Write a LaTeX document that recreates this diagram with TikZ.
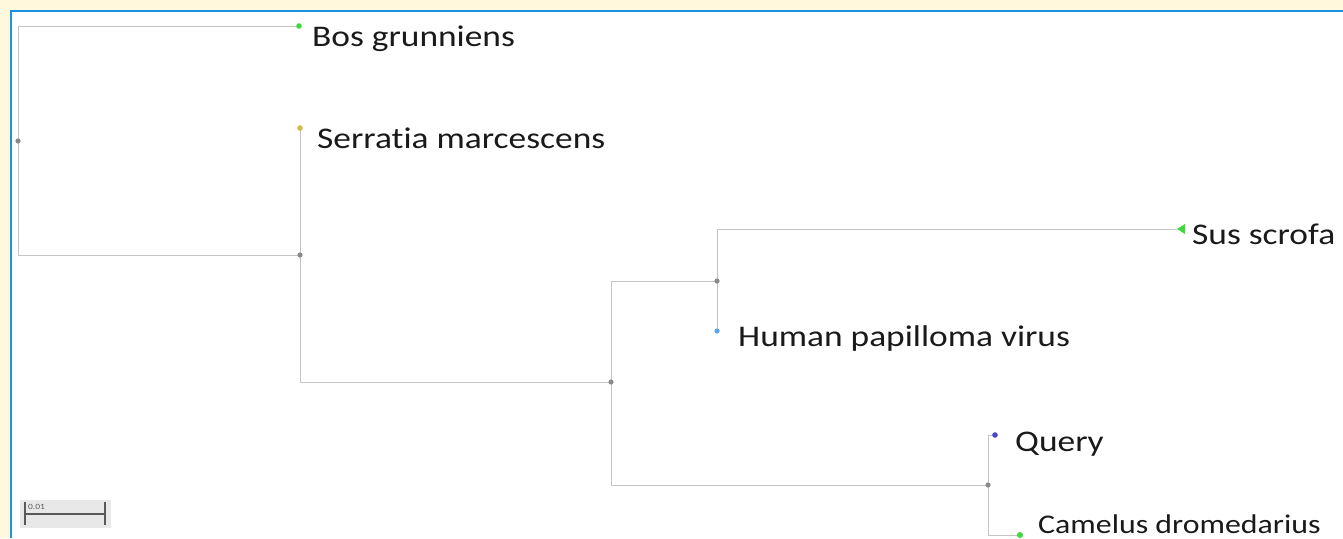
\documentclass[tikz,border=0pt]{standalone}
\usepackage{fontspec}
\setmainfont{Carlito}[FakeStretch=1.18,Ligatures={NoCommon}]
\definecolor{cream}{HTML}{FFF8DC}
\definecolor{frameblue}{HTML}{1E90E0}
\definecolor{branch}{HTML}{C4C4C4}
\definecolor{inner}{HTML}{8A8A8A}
\definecolor{tipgreen}{HTML}{3FD83F}
\definecolor{tipyellow}{HTML}{D8B84A}
\definecolor{tipblue}{HTML}{5AA6E6}
\definecolor{tippurple}{HTML}{4A48C8}
\definecolor{txt}{HTML}{1A1A1A}
\begin{document}
\begin{tikzpicture}[x=1pt,y=-1pt,
  edge/.style={draw=branch,line width=0.9pt},
  innerdot/.style={fill=inner,draw=none},
  lab/.style={anchor=base west,inner sep=0pt,text=txt,font=\fontsize{30}{36}\selectfont},
  smalllab/.style={lab,font=\fontsize{27}{32}\selectfont}]
\useasboundingbox (0,0) rectangle (1343,538);
\fill[cream] (0,0) rectangle (1343,538);
\fill[white] (11,11) rectangle (1343,538);
\draw[frameblue,line width=2.4pt] (11,538) -- (11,11) -- (1343,11);

% tree coordinates
\coordinate (root) at (18,141);
\coordinate (bos) at (299,26);
\coordinate (n1) at (300,255);
\coordinate (serr) at (300,128);
\coordinate (n2) at (611,382);
\coordinate (n3) at (717,281);
\coordinate (sus) at (1177,229);
\coordinate (hpv) at (717,331);
\coordinate (n4) at (988,485);
\coordinate (query) at (995,435);
\coordinate (camel) at (1020,535);

% branches
\draw[edge] (root) |- (bos);
\draw[edge] (root) |- (n1);
\draw[edge] (n1) |- (serr);
\draw[edge] (n1) |- (n2);
\draw[edge] (n2) |- (n3);
\draw[edge] (n3) |- (sus);
\draw[edge] (n3) |- (hpv);
\draw[edge] (n2) |- (n4);
\draw[edge] (n4) |- (query);
\draw[edge] (n4) |- (camel);

% internal nodes
\foreach \c in {root,n1,n2,n3,n4} \fill[innerdot] (\c) circle (2.6);

% tips
\fill[tipgreen] (bos) circle (2.8);
\fill[tipyellow] (serr) circle (2.8);
\fill[tipgreen] (sus) -- ++(8,-5) -- ++(0,10) -- cycle;
\fill[tipblue] (hpv) circle (2.6);
\fill[tippurple] (query) circle (2.8);
\fill[tipgreen] (camel) circle (3);

% labels
\node[lab] (lbos) at (312,46) {Bos grunniens};
\node[lab] (lserr) at (317,148) {Serratia marcescens};
\node[lab] (lsus) at (1192,244) {Sus scrofa};
\node[lab] (lhpv) at (738,346) {Human papilloma virus};
\node[lab] (lquery) at (1015,451) {Query};
\node[smalllab] (lcamel) at (1038,533) {Camelus dromedarius};

% scale bar
\fill[gray!18] (20,500) rectangle (111,528);
\draw[gray!70!black,line width=1.2pt] (25,502) -- (25,525);
\draw[gray!70!black,line width=1.2pt] (105,502) -- (105,525);
\draw[gray!70!black,line width=1.2pt] (25,514) -- (105,514);
\node[anchor=base west,inner sep=0pt,text=gray!70!black,font=\fontsize{8}{9}\selectfont] (scalelab) at (28,509) {0.01};
\end{tikzpicture}
\end{document}
